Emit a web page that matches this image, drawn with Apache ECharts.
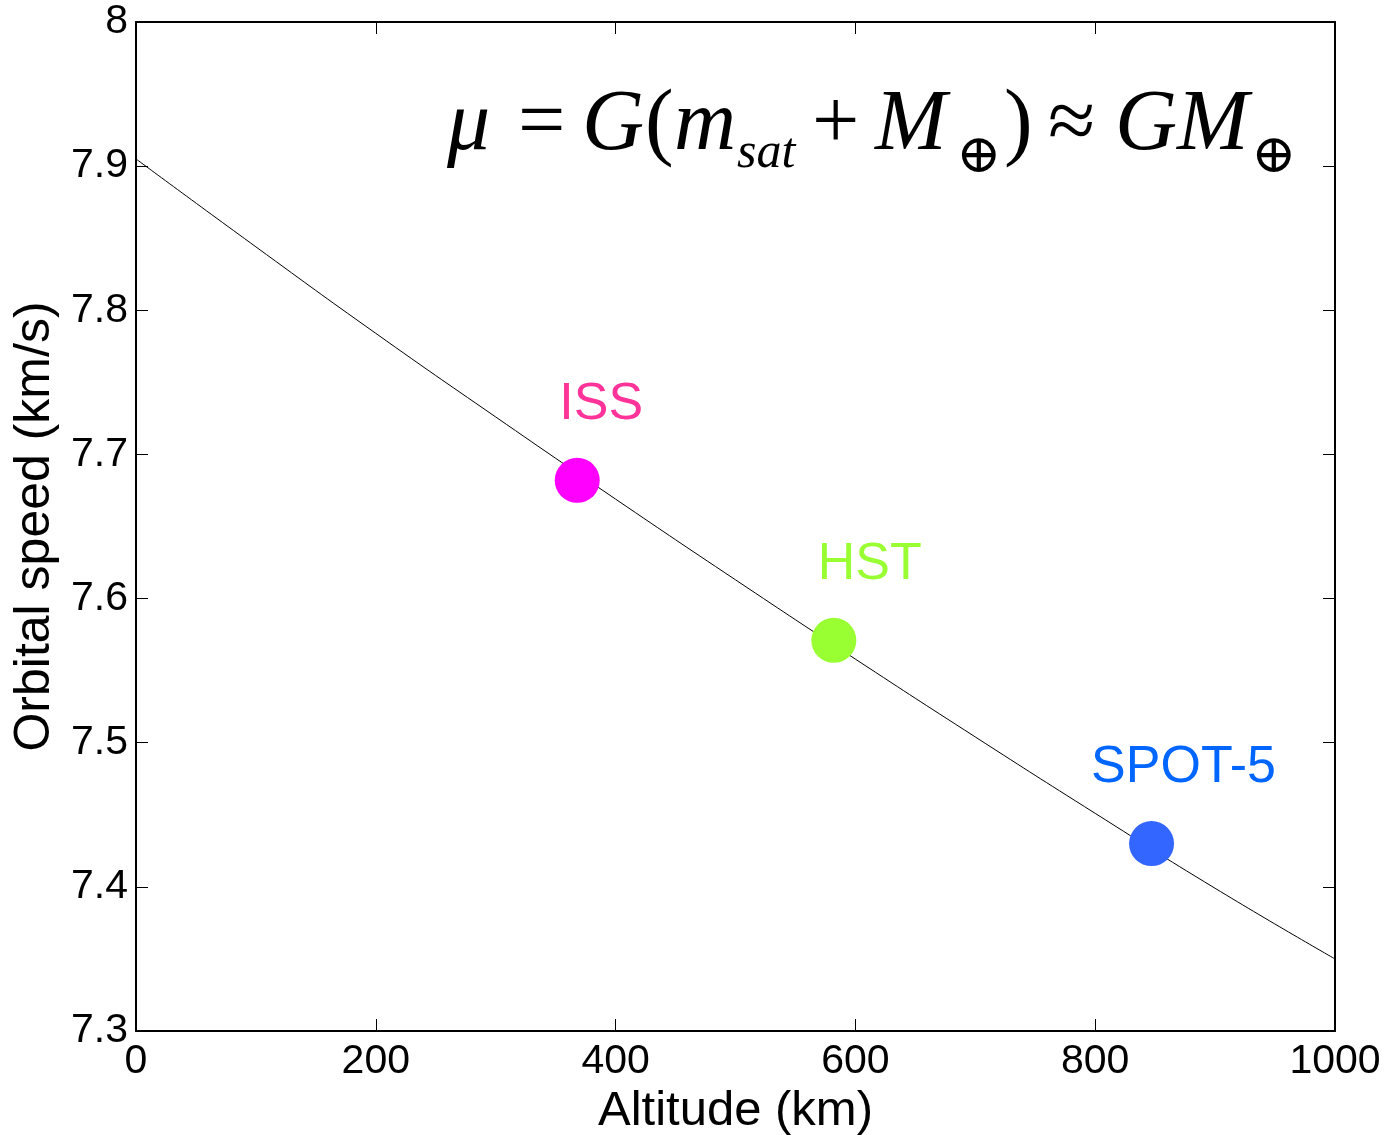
<!DOCTYPE html>
<html>
<head>
<meta charset="utf-8">
<script src="https://cdn.jsdelivr.net/npm/echarts@6/dist/echarts.min.js"></script>
<style>
  html, body { margin: 0; padding: 0; background: #fff; }
  #main { width: 1389px; height: 1135px; }
</style>
</head>
<body>
<div id="main"></div>
<script>
// orbital speed curve, every 100 km
var altitudes = [0, 100, 200, 300, 400, 500, 600, 700, 800, 900, 1000];
var speeds = [7.905, 7.844, 7.784, 7.726, 7.669, 7.613, 7.558, 7.504, 7.451, 7.399, 7.350];

// satellites
var satNames = ['ISS', 'HST', 'SPOT-5'];
var satAltitudes = [368, 582, 847];
var satSpeeds = [7.682, 7.571, 7.430];
var satColors = ['#ff00ff', '#99ff33', '#3366ff'];
var satLabelColors = ['#ff3399', '#99ff33', '#0066ff'];

var xTicks = [0, 200, 400, 600, 800, 1000];
var yTicks = [7.3, 7.4, 7.5, 7.6, 7.7, 7.8, 7.9, 8];

var chart = echarts.init(document.getElementById('main'));

var sansFont = 'Liberation Sans, Arial, sans-serif';
var serifFont = 'Liberation Serif, DejaVu Serif, serif';

function mathText(txt, x, y, size, italic) {
  return {
    type: 'text',
    x: x,
    y: y,
    style: {
      text: txt,
      fontFamily: serifFont,
      fontSize: size,
      fontStyle: italic ? 'italic' : 'normal',
      fill: '#000',
      verticalAlign: 'middle'
    }
  };
}

var linePoints = altitudes.map(function (h, i) { return [h, speeds[i]]; });
// labels sit a bit to the right of each dot
var labelShift = { 'ISS': 24, 'HST': 36, 'SPOT-5': 32 };
var satPoints = satNames.map(function (n, i) {
  return {
    name: n,
    value: [satAltitudes[i], satSpeeds[i]],
    itemStyle: { color: satColors[i], opacity: 1 },
    label: { color: satLabelColors[i], offset: [labelShift[n], 0] }
  };
});

var tickStyle = { show: true, inside: true, length: 12, lineStyle: { color: '#000', width: 1 } };

var option = {
  animation: false,
  backgroundColor: '#fff',
  grid: { left: 136, right: 54, top: 22, bottom: 104, outerBoundsMode: 'none', containLabel: false },
  xAxis: [{
    type: 'value',
    min: 0, max: 1000, interval: 200,
    name: 'Altitude (km)',
    nameLocation: 'middle',
    nameGap: 56,
    nameTextStyle: { fontFamily: sansFont, fontSize: 49, color: '#000' },
    axisLine: { show: true, lineStyle: { color: '#000', width: 2 } },
    axisTick: tickStyle,
    axisLabel: {
      fontFamily: sansFont, fontSize: 41, color: '#000', margin: 10,
      formatter: function (v) { return String(v); }
    },
    splitLine: { show: false }
  }, {
    type: 'value',
    position: 'top',
    min: 0, max: 1000, interval: 200,
    axisLine: { show: true, onZero: false, lineStyle: { color: '#000', width: 2 } },
    axisTick: tickStyle,
    axisLabel: { show: false },
    splitLine: { show: false }
  }],
  yAxis: [{
    type: 'value',
    min: 7.3, max: 8, interval: 0.1,
    name: 'Orbital speed (km/s)',
    nameLocation: 'middle',
    nameGap: 73,
    nameTextStyle: { fontFamily: sansFont, fontSize: 50, color: '#000' },
    axisLine: { show: true, lineStyle: { color: '#000', width: 2 } },
    axisTick: tickStyle,
    axisLabel: {
      fontFamily: sansFont, fontSize: 41, color: '#000', margin: 8,
      formatter: function (v) { return String(Math.round(v * 10) / 10); }
    },
    splitLine: { show: false }
  }, {
    type: 'value',
    position: 'right',
    min: 7.3, max: 8, interval: 0.1,
    axisLine: { show: true, onZero: false, lineStyle: { color: '#000', width: 2 } },
    axisTick: tickStyle,
    axisLabel: { show: false },
    splitLine: { show: false }
  }],
  series: [{
    type: 'line',
    data: linePoints,
    symbol: 'none',
    smooth: true,
    lineStyle: { color: '#000', width: 1 },
    z: 2
  }, {
    type: 'scatter',
    data: satPoints,
    symbolSize: 45,
    itemStyle: { opacity: 1 },
    label: {
      show: true,
      position: 'top',
      distance: 27,
      formatter: '{b}',
      fontFamily: sansFont,
      fontSize: 52
    },
    z: 3
  }],
  graphic: [
    mathText('μ', 447, 126, 86, true),
    mathText('=', 518, 126, 84, false),
    mathText('G', 582, 126, 86, true),
    mathText('(', 645, 126, 86, false),
    mathText('m', 674, 126, 86, true),
    mathText('sat', 737, 154, 50, true),
    mathText('+', 812, 126, 84, false),
    mathText('M', 875, 126, 86, true),
    mathText('⊕', 956, 158, 54, false),
    mathText(')', 1004, 126, 86, false),
    mathText('≈', 1048, 126, 86, false),
    mathText('GM', 1115, 126, 86, true),
    mathText('⊕', 1251, 158, 54, false)
  ]
};

chart.setOption(option);
</script>
</body>
</html>
